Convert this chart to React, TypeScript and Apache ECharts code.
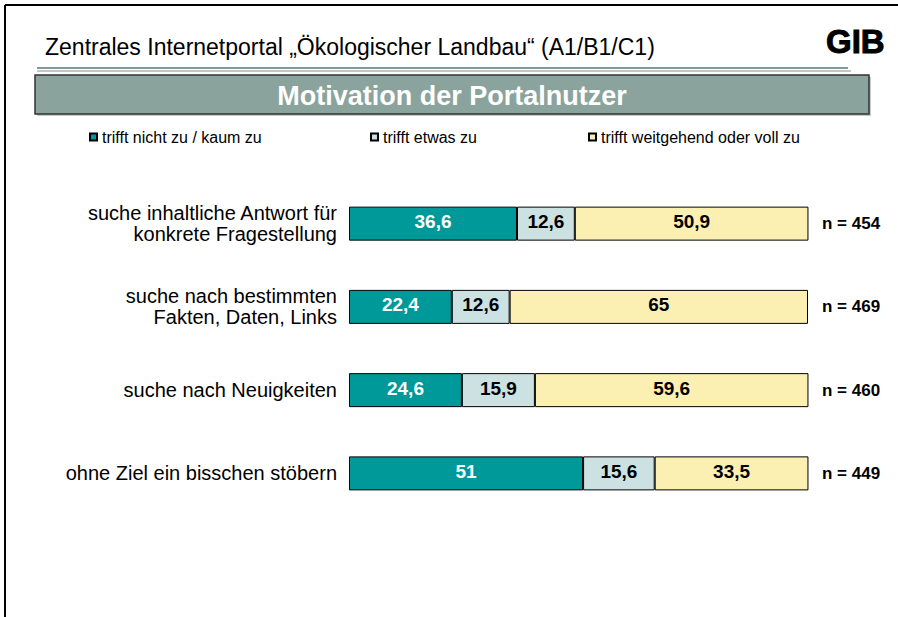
import React, { useEffect, useRef } from "react";
import * as echarts from "echarts";

const categories = [
  "suche inhaltliche Antwort für\nkonkrete Fragestellung",
  "suche nach bestimmten\nFakten, Daten, Links",
  "suche nach Neuigkeiten",
  "ohne Ziel ein bisschen stöbern",
];
const seriesNames = [
  "trifft nicht zu / kaum zu",
  "trifft etwas zu",
  "trifft weitgehend oder voll zu",
];
const nichtZu = [36.6, 22.4, 24.6, 51];
const etwasZu = [12.6, 12.6, 15.9, 15.6];
const vollZu = [50.9, 65, 59.6, 33.5];
const nValues = [454, 469, 460, 449];

const headerText = "Zentrales Internetportal „Ökologischer Landbau“ (A1/B1/C1)";
const bannerText = "Motivation der Portalnutzer";
const logoText = "GIB";

const FONT = "'Liberation Sans', Arial, Helvetica, sans-serif";
const COLORS = ["#009999", "#CCE2E2", "#FBEFB2"];
const LABEL_COLORS = ["#ffffff", "#000000", "#000000"];

export default function App() {
  const ref = useRef<HTMLDivElement>(null);
  useEffect(() => {
    if (!ref.current) return;
    const chart = echarts.init(ref.current, undefined, { renderer: "svg" });
    const values = [nichtZu, etwasZu, vollZu];
    const legendLeft = [84, 365, 583];
    const option: any = {
      animation: false,
      backgroundColor: "#ffffff",
      textStyle: { fontFamily: FONT },
      grid: { left: 349, right: 90, top: 182, bottom: 102, containLabel: false },
      xAxis: { type: "value", min: 0, max: 100, show: false },
      yAxis: [
        {
          type: "category",
          data: categories,
          inverse: true,
          axisLine: { show: false },
          axisTick: { show: false },
          splitLine: { show: false },
          axisLabel: {
            color: "#000",
            fontSize: 20,
            fontFamily: FONT,
            lineHeight: 21,
            margin: 12,
            align: "right",
          },
        },
        {
          type: "category",
          data: nValues,
          inverse: true,
          position: "right",
          axisLine: { show: false },
          axisTick: { show: false },
          splitLine: { show: false },
          axisLabel: {
            color: "#000",
            fontSize: 17,
            fontWeight: "bold",
            fontFamily: FONT,
            margin: 14,
            align: "left",
            formatter: (v: string) => "n = " + v,
          },
        },
      ],
      legend: seriesNames.map((name, i) => ({
        data: [name],
        left: legendLeft[i],
        top: 124,
        icon: "rect",
        itemWidth: 7,
        itemHeight: 7,
        selectedMode: false,
        textStyle: { fontSize: 16, color: "#000", fontFamily: FONT },
      })),
      series: seriesNames.map((name, i) => ({
        name,
        type: "bar",
        stack: "total",
        yAxisIndex: 0,
        data: values[i],
        barWidth: 34,
        itemStyle: { color: COLORS[i], borderColor: "#000", borderWidth: 1 },
        label: {
          show: true,
          position: "inside",
          color: LABEL_COLORS[i],
          fontWeight: "bold",
          fontSize: 19,
          fontFamily: FONT,
          offset: [0, -2],
          formatter: (p: any) => String(p.value).replace(".", ","),
        },
      })),
      graphic: [
        { type: "line", shape: { x1: 5, y1: 5, x2: 898, y2: 5 }, style: { stroke: "#000", lineWidth: 2 } },
        { type: "line", shape: { x1: 5, y1: 5, x2: 5, y2: 617 }, style: { stroke: "#000", lineWidth: 2 } },
        {
          type: "text",
          x: 45,
          y: 47,
          style: { text: headerText, fontSize: 23, fontFamily: FONT, fill: "#000", verticalAlign: "middle" },
        },
        {
          type: "text",
          x: 826,
          y: 41,
          style: {
            text: logoText,
            fontSize: 33,
            fontWeight: 900,
            fontFamily: FONT,
            fill: "#000",
            stroke: "#000",
            lineWidth: 1,
            verticalAlign: "middle",
          },
        },
        { type: "line", shape: { x1: 37, y1: 68, x2: 848, y2: 68 }, style: { stroke: "#7F9C95", lineWidth: 2 } },
        { type: "line", shape: { x1: 37, y1: 71, x2: 851, y2: 71 }, style: { stroke: "#C6C6C6", lineWidth: 2 } },
        { type: "rect", shape: { x: 37, y: 77, width: 834, height: 39 }, style: { fill: "#C8C8C8" } },
        {
          type: "rect",
          shape: { x: 35, y: 75, width: 834, height: 39 },
          style: { fill: "#8BA39D", stroke: "#333", lineWidth: 1.5 },
        },
        {
          type: "text",
          x: 452,
          y: 96,
          style: {
            text: bannerText,
            fontSize: 27,
            fontWeight: "bold",
            fontFamily: FONT,
            fill: "#fff",
            align: "center",
            verticalAlign: "middle",
          },
        },
      ],
    };
    chart.setOption(option);
    return () => chart.dispose();
  }, []);
  return (
    <div
      ref={ref}
      style={{ position: "fixed", left: 0, top: 0, width: 898, height: 617 }}
    />
  );
}
